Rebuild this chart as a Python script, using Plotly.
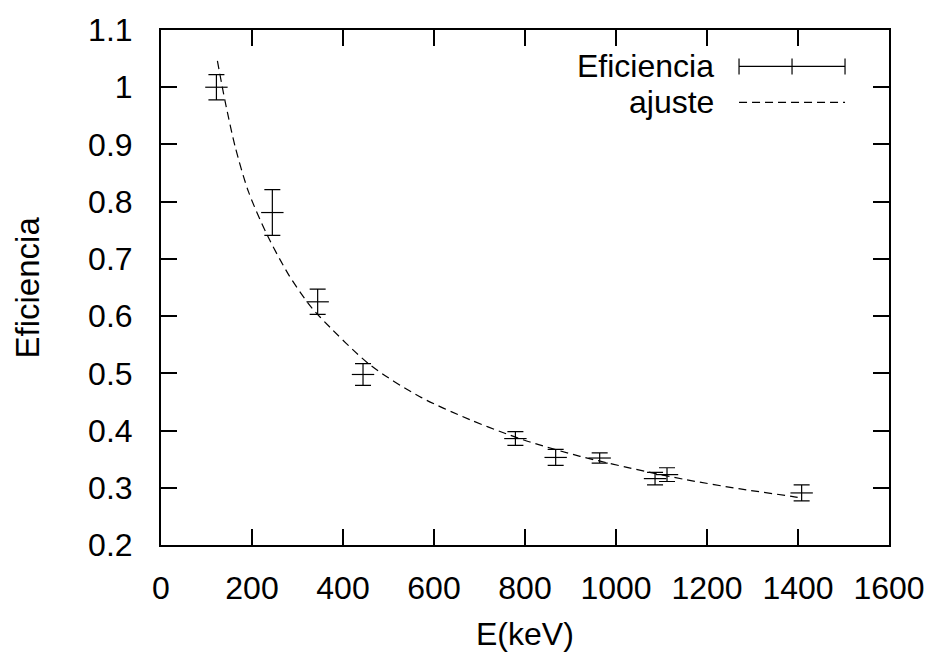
import plotly.graph_objects as go

# Measured data (gamma energies in keV, detector efficiency with errors)
energy = [121.8, 244.7, 344.3, 444.0, 778.9, 867.4, 964.1, 1085.8, 1112.1, 1408.0]
efficiency = [1.000, 0.781, 0.625, 0.498, 0.386, 0.353, 0.352, 0.316, 0.323, 0.291]
eff_err = [0.022, 0.040, 0.022, 0.019, 0.012, 0.014, 0.009, 0.011, 0.012, 0.014]

# Fit curve ("ajuste")
fit_energy = [124, 141, 163, 192, 232, 280, 324, 350, 459, 569, 679, 767, 811, 921,
              1068, 1155, 1273, 1386, 1400]
fit_eff = [1.046, 0.975, 0.896, 0.818, 0.744, 0.673, 0.622, 0.598, 0.515, 0.459, 0.419,
           0.392, 0.380, 0.355, 0.328, 0.314, 0.298, 0.285, 0.283]

x_ticks = [0, 200, 400, 600, 800, 1000, 1200, 1400, 1600]
y_ticks = [0.2, 0.3, 0.4, 0.5, 0.6, 0.7, 0.8, 0.9, 1.0, 1.1]
y_tick_text = ["0.2", "0.3", "0.4", "0.5", "0.6", "0.7", "0.8", "0.9", "1", "1.1"]

FONT = "Liberation Sans, Arial, Helvetica, sans-serif"

fig = go.Figure()

fig.add_trace(go.Scatter(
    x=fit_energy, y=fit_eff, mode="lines", name="ajuste",
    line=dict(color="black", width=1.2, dash="8px,5px", shape="spline", smoothing=0.8),
    hoverinfo="skip",
))

fig.add_trace(go.Scatter(
    x=energy, y=efficiency, mode="markers", name="Eficiencia",
    marker=dict(symbol="line-ew", size=16, color="black",
                line=dict(color="black", width=1.2)),
    error_y=dict(type="data", array=eff_err, visible=True,
                 color="black", thickness=1.2, width=8),
))

axis_common = dict(
    showline=True, linecolor="black", linewidth=2, mirror="ticks",
    ticks="inside", ticklen=16, tickwidth=2, tickcolor="black",
    showgrid=False, zeroline=False,
    tickfont=dict(family=FONT, size=32, color="black"),
)

fig.update_xaxes(range=[0, 1600], tickvals=x_ticks, ticklabelstandoff=14, **axis_common)
fig.update_yaxes(range=[0.2, 1.1], tickvals=y_ticks, ticktext=y_tick_text,
                 ticklabelstandoff=20, **axis_common)

# Legend (gnuplot style, drawn inside the plot box)
leg_x0, leg_x1, leg_xc = 0.794, 0.9396, 0.8668
leg_y1, leg_y2 = 0.9292, 0.8594
cap = 0.0155
shapes = [
    dict(type="line", xref="paper", yref="paper", x0=leg_x0, x1=leg_x1, y0=leg_y1, y1=leg_y1,
         line=dict(color="black", width=1.2)),
    dict(type="line", xref="paper", yref="paper", x0=leg_x0, x1=leg_x0, y0=leg_y1 - cap, y1=leg_y1 + cap,
         line=dict(color="black", width=1.2)),
    dict(type="line", xref="paper", yref="paper", x0=leg_x1, x1=leg_x1, y0=leg_y1 - cap, y1=leg_y1 + cap,
         line=dict(color="black", width=1.2)),
    dict(type="line", xref="paper", yref="paper", x0=leg_xc, x1=leg_xc, y0=leg_y1 - cap, y1=leg_y1 + cap,
         line=dict(color="black", width=1.2)),
    dict(type="line", xref="paper", yref="paper", x0=leg_x0, x1=leg_x1, y0=leg_y2, y1=leg_y2,
         line=dict(color="black", width=1.2, dash="8px,5px")),
]

annotations = [
    dict(text="Eficiencia", xref="paper", yref="paper", x=0.7624, y=leg_y1,
         xanchor="right", yanchor="middle", showarrow=False,
         font=dict(family=FONT, size=32, color="black")),
    dict(text="ajuste", xref="paper", yref="paper", x=0.7624, y=leg_y2,
         xanchor="right", yanchor="middle", showarrow=False,
         font=dict(family=FONT, size=32, color="black")),
    dict(text="E(keV)", xref="paper", yref="paper", x=0.5, y=-0.1727,
         xanchor="center", yanchor="middle", showarrow=False,
         font=dict(family=FONT, size=32, color="black")),
    dict(text="Eficiencia", xref="paper", yref="paper", x=-0.1827, y=0.5,
         xanchor="center", yanchor="middle", showarrow=False, textangle=-90,
         font=dict(family=FONT, size=33, color="black")),
]

fig.update_layout(
    width=937, height=659,
    margin=dict(l=161, r=48, t=30, b=114, pad=0),
    paper_bgcolor="white", plot_bgcolor="white",
    showlegend=False,
    shapes=shapes, annotations=annotations,
    font=dict(family=FONT, color="black"),
)

fig.write_html("out.html")
